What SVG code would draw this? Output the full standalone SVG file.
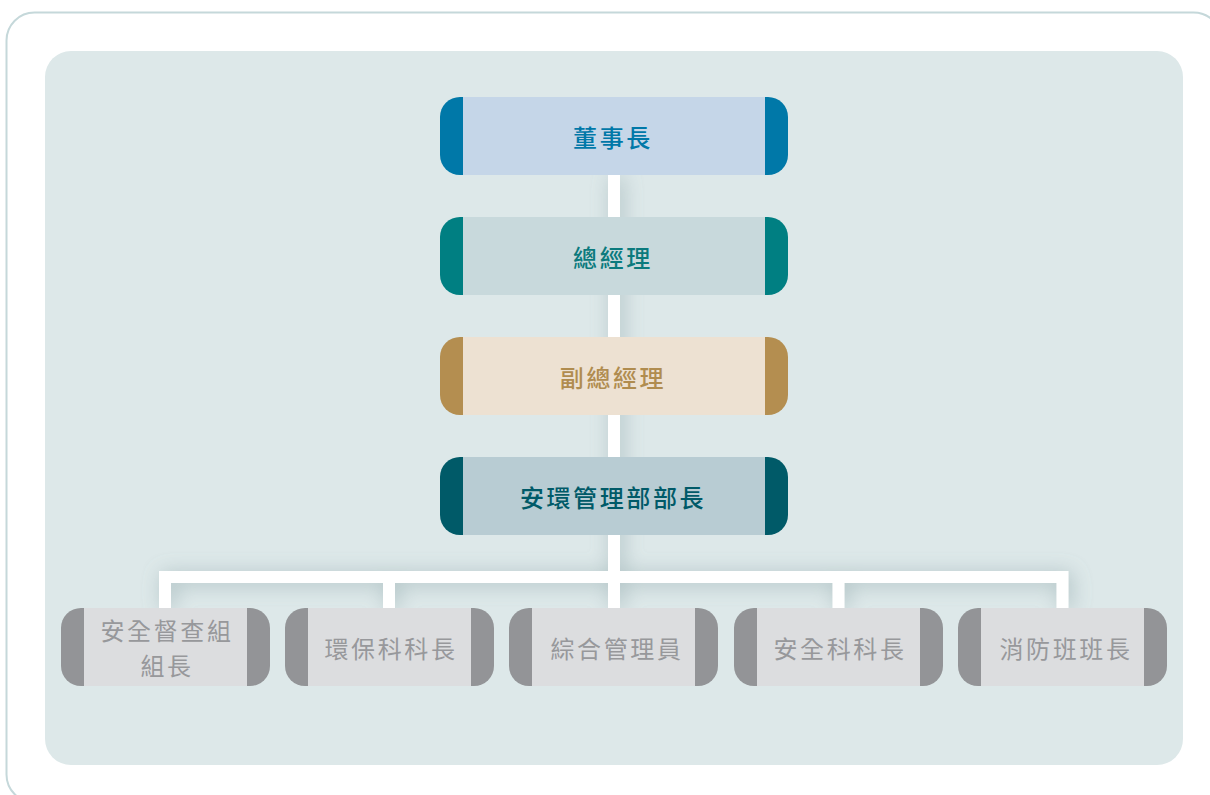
<svg xmlns="http://www.w3.org/2000/svg" width="1210" height="795" viewBox="0 0 1210 795">
<defs>
<style>
.t{font-family:"Noto Sans CJK TC","Noto Sans CJK SC",sans-serif;font-size:24px;letter-spacing:2.6px;text-anchor:middle;dominant-baseline:central}
.top{font-weight:500}
.bot{fill:#97989b}
.conn{fill:none;stroke:#ffffff;stroke-width:12}
</style>
<filter id="ds" x="-30%" y="-30%" width="160%" height="160%">
<feGaussianBlur in="SourceAlpha" stdDeviation="10" result="b"/>
<feOffset in="b" dx="3" dy="2" result="o"/>
<feFlood flood-color="#7d979b" flood-opacity="0.5"/>
<feComposite in2="o" operator="in" result="s"/>
<feMerge><feMergeNode in="s"/><feMergeNode in="SourceGraphic"/></feMerge>
</filter>
</defs>
<rect x="6.5" y="12.5" width="1215" height="790" rx="28" fill="#ffffff" stroke="#c5d8da" stroke-width="2"/>
<rect x="45" y="51" width="1138" height="714" rx="26" fill="#dde8e9"/>
<g id="connectors" filter="url(#ds)">
<path class="conn" d="M614 175V608M165 608V577H1062.5V608M389 577V608M838.5 577V608"/>
</g>
<g id="n1">
<path d="M460 97H768A20 20 0 0 1 788 117V155A20 20 0 0 1 768 175H460A20 20 0 0 1 440 155V117A20 20 0 0 1 460 97Z" fill="#0078a8"/>
<rect x="463" y="97" width="302" height="78" fill="#c5d6e8"/>
<text class="t top" x="613" y="136" fill="#0078a8">董事長</text>
</g>
<g id="n2">
<path d="M460 217H768A20 20 0 0 1 788 237V275A20 20 0 0 1 768 295H460A20 20 0 0 1 440 275V237A20 20 0 0 1 460 217Z" fill="#007f82"/>
<rect x="463" y="217" width="302" height="78" fill="#c8d9dc"/>
<text class="t top" x="613" y="256" fill="#0b7a7d">總經理</text>
</g>
<g id="n3">
<path d="M460 337H768A20 20 0 0 1 788 357V395A20 20 0 0 1 768 415H460A20 20 0 0 1 440 395V357A20 20 0 0 1 460 337Z" fill="#b48e50"/>
<rect x="463" y="337" width="302" height="78" fill="#ede1d2"/>
<text class="t top" x="613" y="376" fill="#b08c4f">副總經理</text>
</g>
<g id="n4">
<path d="M460 457H768A20 20 0 0 1 788 477V515A20 20 0 0 1 768 535H460A20 20 0 0 1 440 515V477A20 20 0 0 1 460 457Z" fill="#005a68"/>
<rect x="463" y="457" width="302" height="78" fill="#b8ccd3"/>
<text class="t top" x="613" y="496" fill="#005a68">安環管理部部長</text>
</g>
<g id="b1">
<path d="M81 608H250A20 20 0 0 1 270 628V666A20 20 0 0 1 250 686H81A20 20 0 0 1 61 666V628A20 20 0 0 1 81 608Z" fill="#939497"/>
<rect x="84" y="608" width="163" height="78" fill="#dcdddf"/>
<text class="t bot" x="167" y="629.5">安全督查組</text>
<text class="t bot" x="167" y="664.5">組長</text>
</g>
<g id="b2">
<path d="M305 608H474A20 20 0 0 1 494 628V666A20 20 0 0 1 474 686H305A20 20 0 0 1 285 666V628A20 20 0 0 1 305 608Z" fill="#939497"/>
<rect x="308" y="608" width="163" height="78" fill="#dcdddf"/>
<text class="t bot" x="391" y="647">環保科科長</text>
</g>
<g id="b3">
<path d="M529 608H698A20 20 0 0 1 718 628V666A20 20 0 0 1 698 686H529A20 20 0 0 1 509 666V628A20 20 0 0 1 529 608Z" fill="#939497"/>
<rect x="532" y="608" width="163" height="78" fill="#dcdddf"/>
<text class="t bot" x="617" y="647">綜合管理員</text>
</g>
<g id="b4">
<path d="M754 608H923A20 20 0 0 1 943 628V666A20 20 0 0 1 923 686H754A20 20 0 0 1 734 666V628A20 20 0 0 1 754 608Z" fill="#939497"/>
<rect x="757" y="608" width="163" height="78" fill="#dcdddf"/>
<text class="t bot" x="840" y="647">安全科科長</text>
</g>
<g id="b5">
<path d="M978 608H1147A20 20 0 0 1 1167 628V666A20 20 0 0 1 1147 686H978A20 20 0 0 1 958 666V628A20 20 0 0 1 978 608Z" fill="#939497"/>
<rect x="981" y="608" width="163" height="78" fill="#dcdddf"/>
<text class="t bot" x="1066" y="647">消防班班長</text>
</g>
</svg>
